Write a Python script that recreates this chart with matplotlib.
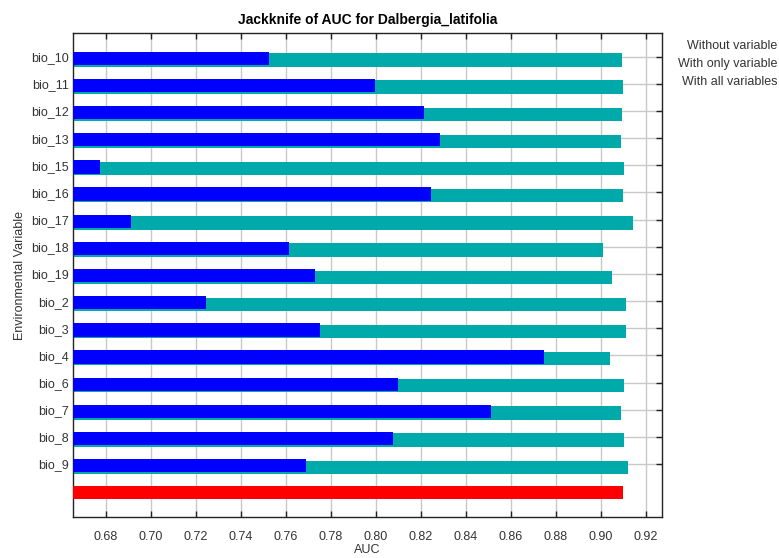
import numpy as np
import matplotlib
matplotlib.use('Agg')  # noqa
import matplotlib.pyplot as plt

plt.rcParams['font.family'] = ['Liberation Sans', 'DejaVu Sans']

variables = ['bio_10', 'bio_11', 'bio_12', 'bio_13', 'bio_15', 'bio_16',
             'bio_17', 'bio_18', 'bio_19', 'bio_2', 'bio_3', 'bio_4',
             'bio_6', 'bio_7', 'bio_8', 'bio_9']
without_var = [0.9093, 0.9098, 0.9093, 0.9089, 0.9102, 0.9098, 0.9142,
               0.9009, 0.9049, 0.9111, 0.9111, 0.9040, 0.9102, 0.9089,
               0.9102, 0.9120]
only_var = [0.7524, 0.7996, 0.8213, 0.8284, 0.6773, 0.8244, 0.6911,
            0.7613, 0.7729, 0.7244, 0.7751, 0.8747, 0.8098, 0.8511,
            0.8076, 0.7689]
all_vars = 0.9096
x_ticks = [0.68, 0.70, 0.72, 0.74, 0.76, 0.78, 0.80, 0.82, 0.84, 0.86,
           0.88, 0.90, 0.92]

x_min = 0.6655
x_max = 0.927

fig = plt.figure(figsize=(7.79, 5.58), dpi=100)
ax = fig.add_axes([0.0941, 0.074, 0.7553, 0.8663])

rows = np.arange(len(variables))
h = 0.49
ax.barh(rows + 0.12, np.array(without_var) - x_min, left=x_min, height=h,
        color='#00aaaa', zorder=2)
ax.barh(rows + 0.06, np.array(only_var) - x_min, left=x_min, height=h,
        color='#0000ff', zorder=3)
ax.barh([len(variables) + 0.06], [all_vars - x_min], left=x_min, height=h,
        color='#ff0000', zorder=3)

ax.set_xlim(x_min, x_max)
ax.set_ylim(len(variables) + 0.94, -0.86)
ax.set_xticks(x_ticks)
ax.set_xticklabels(['%.2f' % t for t in x_ticks])
ax.set_yticks(rows)
ax.set_yticklabels(variables)

ax.grid(True, color='#c8c8c8', linewidth=1.0, zorder=0)
ax.set_axisbelow(True)
ax.tick_params(axis='both', direction='in', length=4, width=1,
               labelsize=9, colors='#222222', labelcolor='#333333')
ax.tick_params(axis='x', top=True, pad=10)
ax.tick_params(axis='y', right=True, left=False, pad=3)
for s in ax.spines.values():
    s.set_color('#222222')
    s.set_linewidth(1.0)

ax.set_title('Jackknife of AUC for Dalbergia_latifolia', fontsize=10,
             fontweight='bold', pad=7)
ax.set_xlabel('AUC', fontsize=9, labelpad=1, color='#333333')
ax.set_ylabel('Environmental Variable', fontsize=9, labelpad=4,
              color='#333333')

for i, txt in enumerate(['Without variable', 'With only variable',
                         'With all variables']):
    fig.text(777 / 779, 1 - (46 + 18 * i) / 558, txt, ha='right',
             va='center', fontsize=9, color='#333333')

plt.savefig('out.png', dpi=100)
